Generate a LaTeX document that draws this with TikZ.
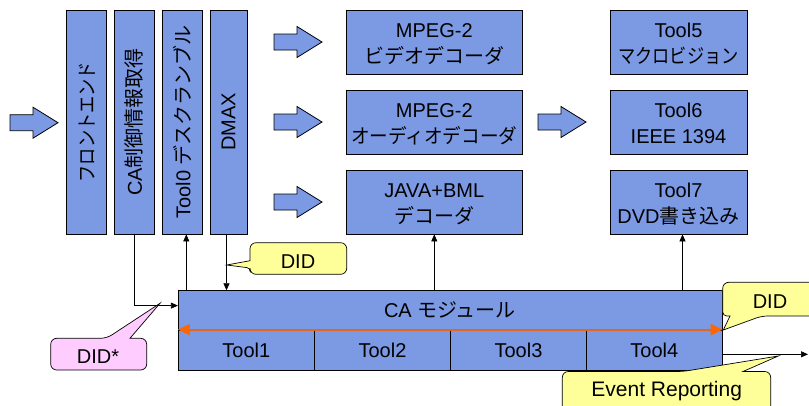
\documentclass[tikz,border=0pt]{standalone}
\usepackage{fontspec}
\setmainfont{Liberation Sans}
\newfontfamily\jp{Noto Sans CJK JP}
\newfontfamily\jpa{Noto Sans CJK JP}[FakeStretch=0.93]
\newfontfamily\jpn{Noto Sans CJK JP}[FakeStretch=0.86]
\usetikzlibrary{arrows.meta}
\definecolor{boxblue}{RGB}{124,153,228}
\definecolor{calloutyellow}{RGB}{255,255,153}
\definecolor{calloutpink}{RGB}{255,204,255}
\definecolor{busline}{RGB}{224,102,36}
\definecolor{bushead}{RGB}{255,102,0}
% two-line box label, set a little below the box centre
\newcommand\twoline[2]{\rule{0pt}{20pt}#1\\#2\rule[-2.5pt]{0pt}{0pt}}
\tikzset{
  txt/.style={font=\fontsize{20}{26}\selectfont},
  blockbox/.style={draw=black, line width=0.8pt, fill=boxblue, txt, align=center, inner sep=0pt},
  hbox/.style={blockbox, minimum width=176pt, minimum height=64pt},
  rbox/.style={blockbox, minimum width=137pt, minimum height=64pt},
  vbox/.style={blockbox, rotate=90, minimum width=224pt, minimum height=40pt},
  cell/.style={blockbox, minimum width=136pt, minimum height=40pt},
  conn/.style={draw=black, line width=0.7pt},
  arr/.style={conn, -{Triangle[length=7pt,width=6pt]}},
  callY/.style={draw=black, line width=0.7pt, fill=calloutyellow},
  callP/.style={draw=black, line width=0.7pt, fill=calloutpink},
  blockarrow/.pic={\draw[line width=0.8pt, fill=boxblue] (0,-8) -- (23,-8) -- (23,-15.5) -- (48,0) -- (23,15.5) -- (23,8) -- (0,8) -- cycle;}
}
\begin{document}
\begin{tikzpicture}[x=1pt, y=-1pt]
\useasboundingbox (0,0) rectangle (809,405);
\fill[white] (0,0) rectangle (809,405);
\clip (0,0) rectangle (809,405);

% block arrows
\pic at (10,122.7) {blockarrow};
\pic at (274,42) {blockarrow};
\pic at (274,122) {blockarrow};
\pic at (274,202) {blockarrow};
\pic at (538,122) {blockarrow};

% vertical stages
\node[vbox] (fe) at (86.7,122) {\jpn フロントエンド};
\node[vbox] (cainfo) at (134.3,122) {CA{\jp 制御情報取得}};
\node[vbox] (desc) at (182.3,122) {Tool0 {\jp デスクランブル}};
\node[vbox, minimum height=37pt] (dmax) at (228.5,122) {DMAX};

% decoders
\node[hbox] (vdec) at (434.3,42) {\twoline{MPEG-2}{\jp ビデオデコーダ}};
\node[hbox] (adec) at (434.3,122) {\twoline{MPEG-2}{\jpa オーディオデコーダ}};
\node[hbox] (jdec) at (434.3,202) {\twoline{JAVA+BML}{\jp デコーダ}};

% output tools
\node[rbox] (t5) at (678.5,42) {\twoline{Tool5}{\jpn マクロビジョン}};
\node[rbox] (t6) at (678.5,122) {\twoline{Tool6}{IEEE 1394}};
\node[rbox] (t7) at (678.5,202) {\twoline{Tool7}{DVD{\jp 書き込み}}};

% CA module
\node[blockbox, minimum width=544pt, minimum height=79.3pt] (camod) at (450.3,330.35) {};
\node[txt] (calabel) at (450,310) {CA {\jp モジュール}};
\node[cell] (tool1) at (246.3,350) {Tool1};
\node[cell] (tool2) at (382.5,350) {Tool2};
\node[cell] (tool3) at (518.5,350) {Tool3};
\node[cell] (tool4) at (654.3,350) {Tool4};

% connectors
\path (camod.north west) ++(0,15.3) coordinate (caIn);
\draw[arr] (cainfo.west) |- (caIn);
\draw[arr] ([xshift=4pt]desc.west |- camod.north) -- ([xshift=4pt]desc.west);
\draw[arr] ([xshift=-2pt]dmax.west) -- ([xshift=-2pt]dmax.west |- camod.north);
\draw[arr] (jdec.south |- camod.north) -- (jdec.south);
\draw[arr] ([xshift=4pt]t7.south |- camod.north) -- ([xshift=4pt]t7.south);
\coordinate (outEnd) at (808,354.3);
\draw[arr] (camod.east |- outEnd) -- (outEnd);

% bus arrow across the module
\draw[busline, line width=2pt, {Triangle[length=12pt,width=11pt,fill=bushead,color=bushead]}-{Triangle[length=12pt,width=11pt,fill=bushead,color=bushead]}] (tool1.north west) -- (tool4.north east);

% callouts
\draw[callY, rounded corners=6] (298,242.7) -- (346.7,242.7) -- (346.7,274.3) -- (250,274.3) [rounded corners=3] -- (250,268) [sharp corners] -- (226.7,265) -- (250,260.7) [rounded corners=6] -- (250,242.7) -- cycle;
\node[txt] (didA) at (298,261.7) {DID};

\draw[callP, rounded corners=6] (50.7,354) -- (50.7,338.3) -- (106.7,338.3) [sharp corners] -- (160,303.3) -- (130,338.3) [rounded corners=6] -- (146.7,338.3) -- (146.7,370) -- (50.7,370) -- cycle;
\node[txt] (didStar) at (98,357) {DID*};

\draw[callY, rounded corners=6] (722.7,300) -- (722.7,282.3) -- (820,282.3) -- (820,316) -- (761.7,316) [sharp corners] -- (723.3,330) -- (730,316) [rounded corners=4] -- (722.7,316) -- cycle;
\node[txt] (didB) at (770,301.7) {DID};

\draw[callY, rounded corners=6] (562.3,400) -- (562.3,371.5) -- (683,371.5) [sharp corners] -- (778.3,356) -- (743,371.5) [rounded corners=6] -- (770.7,371.5) -- (770.7,420) -- (562.3,420) -- cycle;
\node[txt, font=\fontsize{21}{26}\selectfont] (evt) at (666.7,391) {Event Reporting};
\end{tikzpicture}
\end{document}
